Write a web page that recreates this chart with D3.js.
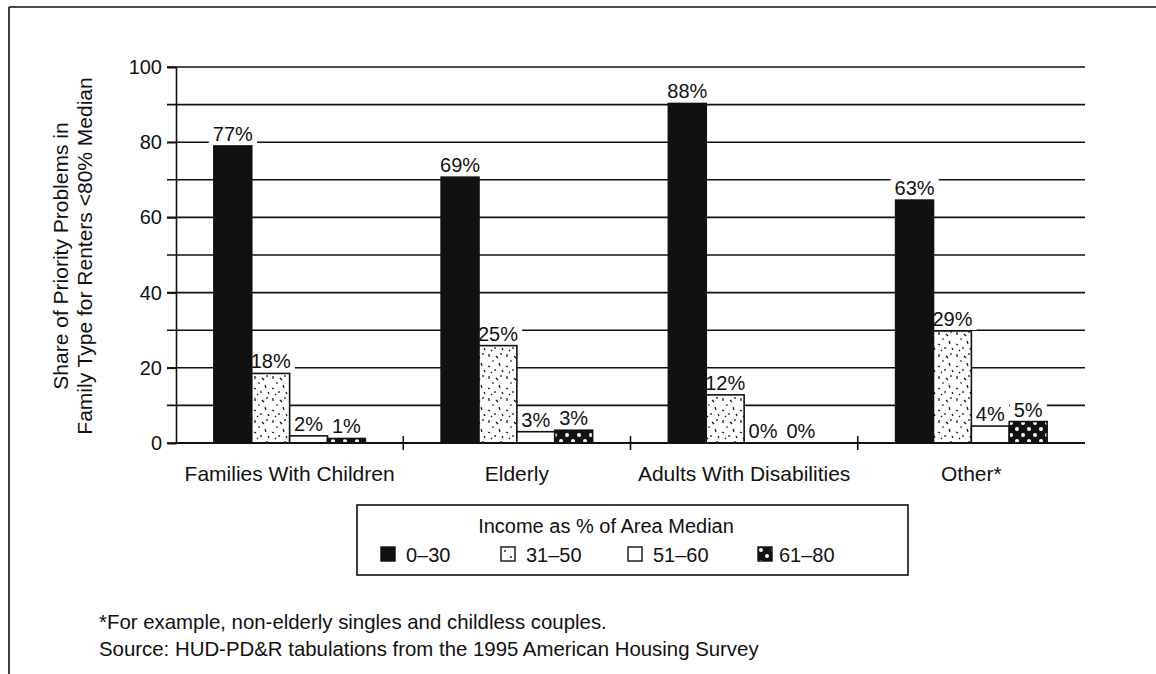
<!DOCTYPE html>
<html>
<head>
<meta charset="utf-8">
<script src="https://cdn.jsdelivr.net/npm/d3@7"></script>
<style>
  html, body { margin: 0; padding: 0; background: #fff; }
  svg { display: block; }
  text { font-family: "Liberation Sans", Arial, Helvetica, sans-serif; fill: #111; }
</style>
</head>
<body>
<svg id="chart" width="1156" height="674"></svg>
<script>
// ---- data ----
const categories = ["Families With Children", "Elderly", "Adults With Disabilities", "Other*"];
const seriesNames = ["0\u201330", "31\u201350", "51\u201360", "61\u201380"];
// printed labels (%)
const labels0to30 = [77, 69, 88, 63];
const labels31to50 = [18, 25, 12, 29];
const labels51to60 = [2, 3, 0, 4];
const labels61to80 = [1, 3, 0, 5];
// bar heights as drawn in the picture
const bars0to30 = [79, 70.7, 90.3, 64.6];
const bars31to50 = [18.5, 25.9, 12.8, 29.8];
const bars51to60 = [1.9, 3.0, 0, 4.5];
const bars61to80 = [1.2, 3.4, 0, 5.7];
const yTicks = [0, 10, 20, 30, 40, 50, 60, 70, 80, 90, 100];
const yTitleLines = ["Share of Priority Problems in", "Family Type for Renters <80% Median"];
const legendTitle = "Income as % of Area Median";
const footnotes = ["*For example, non-elderly singles and childless couples.",
                   "Source: HUD-PD&R tabulations from the 1995 American Housing Survey"];

const labelSets = [labels0to30, labels31to50, labels51to60, labels61to80];
const barSets = [bars0to30, bars31to50, bars51to60, bars61to80];
const rows = [];
categories.forEach((c, ci) => {
  seriesNames.forEach((s, si) => {
    rows.push({cat: c, ser: s, si, value: barSets[si][ci], label: labelSets[si][ci]});
  });
});

// ---- layout ----
const svg = d3.select("#chart");
const L = 176, R = 1085, T = 67, B = 443;
const x = d3.scaleBand().domain(categories).range([L, R]).padding(0);
const x1 = d3.scaleBand().domain(seriesNames).range([0, x.bandwidth()]).paddingInner(0).paddingOuter(1);
const y = d3.scaleLinear().domain([0, 100]).range([B, T]);

// ---- patterns ----
const defs = svg.append("defs");
const stip = defs.append("pattern").attr("id", "stipple").attr("patternUnits", "userSpaceOnUse")
  .attr("width", 18).attr("height", 22);
stip.append("rect").attr("width", 18).attr("height", 22).attr("fill", "#fff");
const segs = [[3,2,3,5],[10,4,12,6],[15,1,15,3],[6,9,8,9],[13,11,14,14],[2,14,4,15],[9,17,9,19],[16,18,17,20],[5,20,6,21]];
stip.selectAll("line").data(segs).enter().append("line")
  .attr("x1", d => d[0]).attr("y1", d => d[1]).attr("x2", d => d[2]).attr("y2", d => d[3])
  .attr("stroke", "#111").attr("stroke-width", 1.2);
const dots = defs.append("pattern").attr("id", "dots").attr("patternUnits", "userSpaceOnUse")
  .attr("width", 12).attr("height", 12);
dots.append("rect").attr("width", 12).attr("height", 12).attr("fill", "#111");
dots.append("circle").attr("cx", 3).attr("cy", 3).attr("r", 2).attr("fill", "#fff");
dots.append("circle").attr("cx", 9).attr("cy", 9).attr("r", 2).attr("fill", "#fff");

const fills = d3.scaleOrdinal().domain(seriesNames).range(["#111", "url(#stipple)", "#fff", "url(#dots)"]);

// ---- frame ----
svg.append("line").attr("x1", 9).attr("x2", 1156).attr("y1", 7).attr("y2", 7).attr("stroke", "#111").attr("stroke-width", 1.6);
svg.append("line").attr("x1", 9).attr("x2", 9).attr("y1", 7).attr("y2", 674).attr("stroke", "#111").attr("stroke-width", 1.6);

// ---- gridlines ----
svg.append("g").selectAll("line").data(yTicks).enter().append("line")
  .attr("x1", L - 9).attr("x2", R).attr("y1", d => y(d)).attr("y2", d => y(d))
  .attr("stroke", "#111").attr("stroke-width", 1.6);

// ---- y axis ----
const yAxis = d3.axisLeft(y).tickValues(yTicks.filter(d => d % 20 === 0)).tickSize(9).tickPadding(5)
  .tickFormat(d3.format("d"));
const gy = svg.append("g").attr("transform", `translate(${L},0)`).call(yAxis);
gy.select(".domain").attr("stroke", "#111").attr("stroke-width", 1.6);
gy.selectAll(".tick line").attr("stroke", "#111").attr("stroke-width", 1.6);
gy.selectAll(".tick text").attr("font-size", 20).attr("fill", "#111")
  .attr("font-family", '"Liberation Sans", Arial, sans-serif');

// y title
const yt = svg.append("text").attr("transform", "translate(0,256) rotate(-90)")
  .attr("text-anchor", "middle").attr("font-size", 21);
yt.selectAll("tspan").data(yTitleLines).enter().append("tspan")
  .attr("x", 0).attr("y", (d, i) => 68 + i * 24).text(d => d);

// ---- label backgrounds ----
const lbl = d => d.label + "%";
const bx = d => x(d.cat) + x1(d.ser) + x1.bandwidth() / 2;
const bgG = svg.append("g");
const barG = svg.append("g");
const txtG = svg.append("g");

// ---- bars ----
barG.selectAll("rect").data(rows.filter(d => d.value > 0)).enter().append("rect")
  .attr("x", d => x(d.cat) + x1(d.ser)).attr("width", x1.bandwidth())
  .attr("y", d => y(d.value)).attr("height", d => y(0) - y(d.value))
  .attr("fill", d => fills(d.ser)).attr("stroke", "#111").attr("stroke-width", 1.6);

// ---- value labels ----
const texts = txtG.selectAll("text").data(rows).enter().append("text")
  .attr("x", bx).attr("y", d => y(d.value) - 5)
  .attr("text-anchor", "middle").attr("font-size", 20).text(lbl);
texts.each(function(d) {
  const b = this.getBBox();
  bgG.append("rect").attr("x", b.x - 4).attr("y", b.y).attr("width", b.width + 8).attr("height", b.height)
    .attr("fill", "#fff");
});

// ---- x axis ----
svg.append("line").attr("x1", L).attr("x2", R).attr("y1", B).attr("y2", B).attr("stroke", "#111").attr("stroke-width", 1.8);
svg.append("g").selectAll("line").data(categories.slice(1)).enter().append("line")
  .attr("x1", d => x(d)).attr("x2", d => x(d)).attr("y1", B - 7).attr("y2", B + 7)
  .attr("stroke", "#111").attr("stroke-width", 1.6);
svg.append("g").selectAll("text").data(categories).enter().append("text")
  .attr("x", d => x(d) + x.bandwidth() / 2).attr("y", 481)
  .attr("text-anchor", "middle").attr("font-size", 21).text(d => d);

// ---- legend ----
const lg = svg.append("g");
lg.append("rect").attr("x", 357).attr("y", 505).attr("width", 551).attr("height", 70)
  .attr("fill", "#fff").attr("stroke", "#111").attr("stroke-width", 1.6);
lg.append("text").attr("x", 606).attr("y", 533).attr("text-anchor", "middle").attr("font-size", 20).text(legendTitle);
const legOffsets = [0, 120, 247, 377];
const items = lg.selectAll("g.item").data(seriesNames).enter().append("g").attr("class", "item")
  .attr("transform", (d, i) => `translate(${381 + legOffsets[i]},547)`);
items.append("rect").attr("width", 14).attr("height", 14)
  .attr("fill", d => d === seriesNames[1] ? "#fff" : fills(d)).attr("stroke", "#111").attr("stroke-width", 1.4);
items.filter(d => d === seriesNames[1]).append("circle").attr("cx", 4).attr("cy", 4).attr("r", 0.9).attr("fill", "#111");
items.filter(d => d === seriesNames[1]).append("circle").attr("cx", 10).attr("cy", 10).attr("r", 0.9).attr("fill", "#111");
items.append("text").attr("x", d => d === seriesNames[3] ? 21 : 25).attr("y", 15).attr("font-size", 20).text(d => d);

// ---- footnotes ----
svg.append("g").selectAll("text").data(footnotes).enter().append("text")
  .attr("x", 99).attr("y", (d, i) => 629 + i * 27).attr("font-size", 20.4).text(d => d);
</script>
</body>
</html>
